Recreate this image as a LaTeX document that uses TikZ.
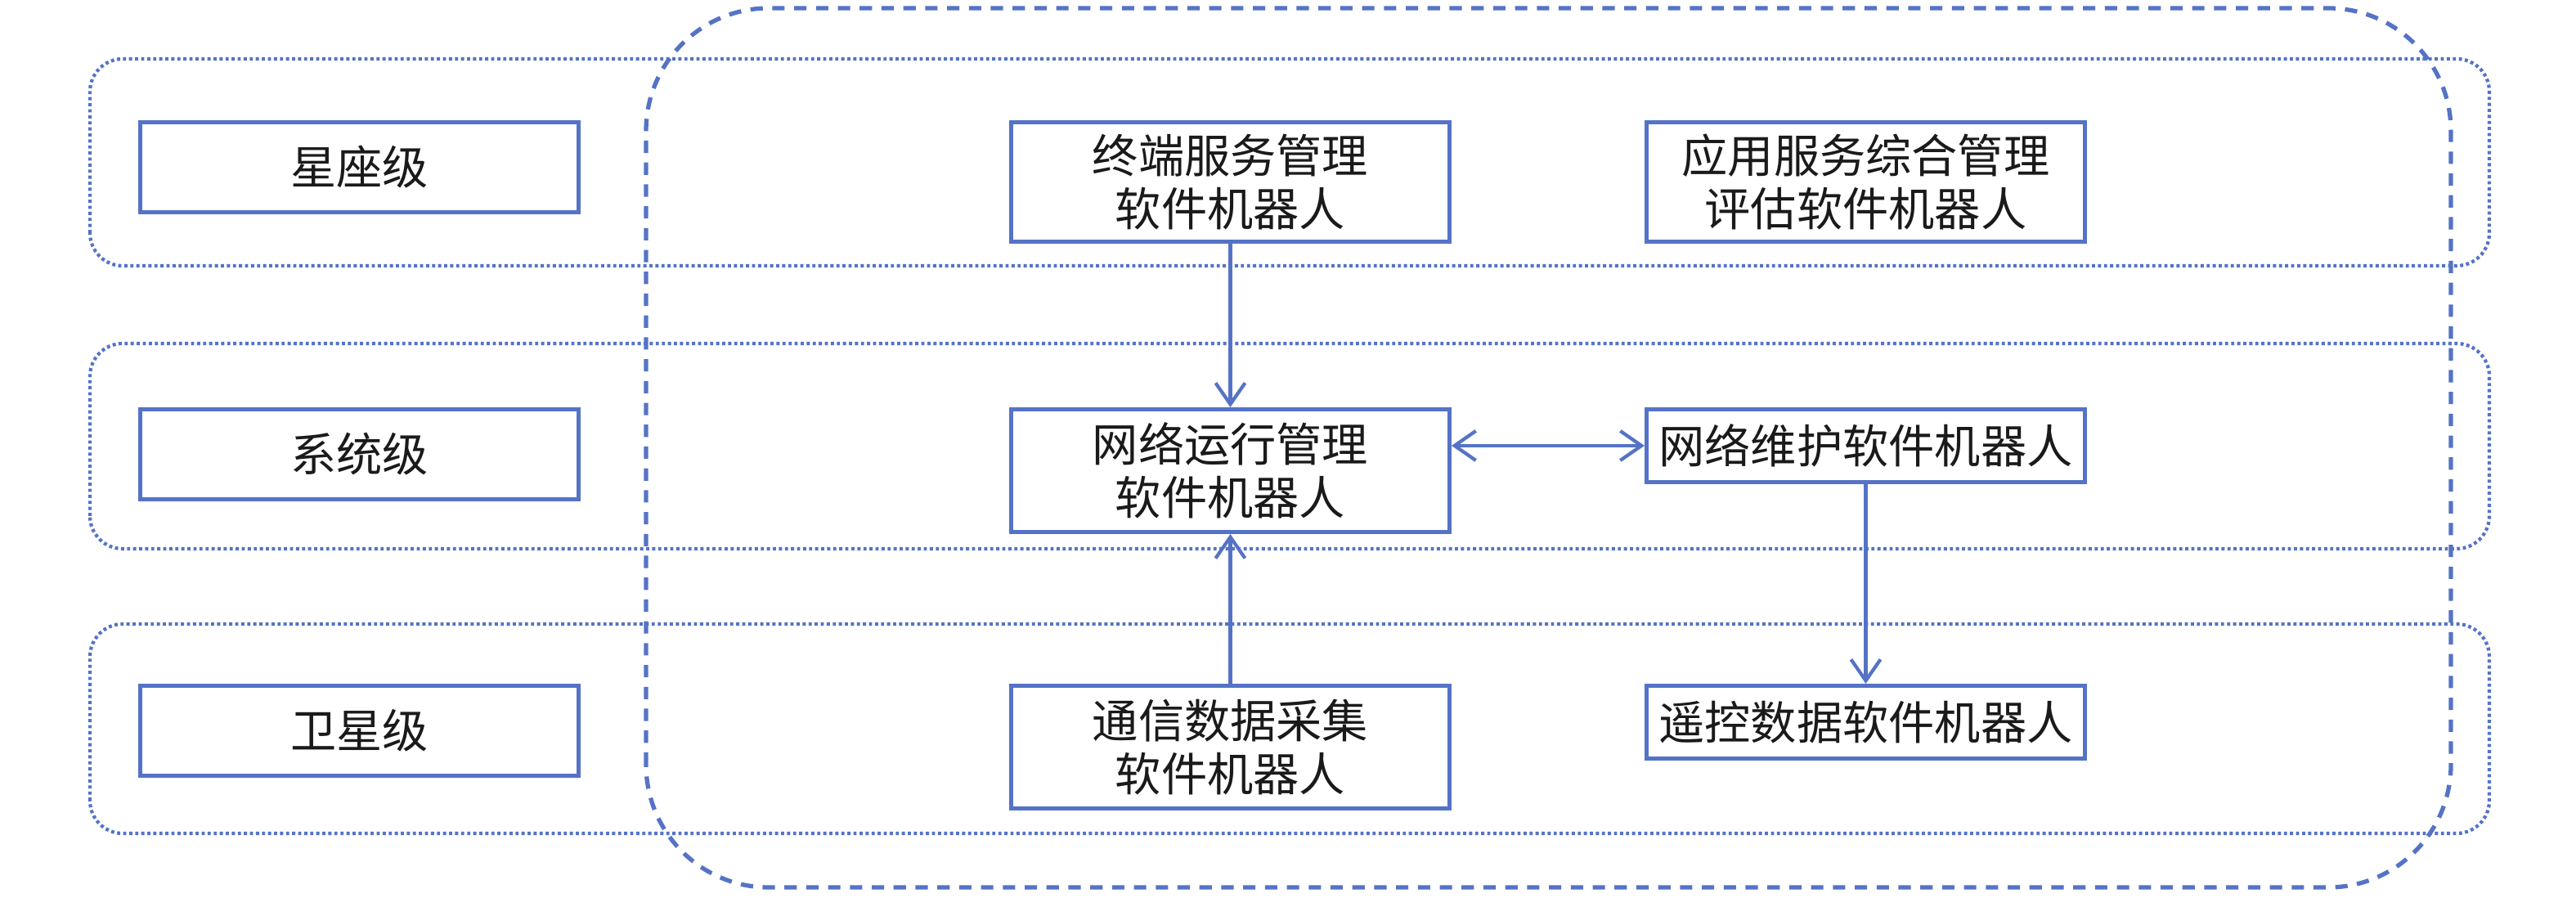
\documentclass[tikz,border=0pt]{standalone}
\usepackage{fontspec}
\newfontfamily\cjk{Noto Sans CJK SC}
\usetikzlibrary{arrows.meta,positioning}
\definecolor{lineblue}{HTML}{5573C6}
\definecolor{ink}{HTML}{1A1A1A}

\begin{document}
\begin{tikzpicture}[
  band/.style={draw=lineblue, line width=1.2pt, dash pattern=on 1.1pt off 1pt, rounded corners=0.4cm},
  lvl/.style={draw=lineblue, line width=1.4pt, anchor=north west, minimum width=5.36cm, minimum height=1.10cm,
              inner sep=0pt, text=ink, align=center, font=\cjk\fontsize{16}{18.5}\selectfont},
  bot/.style={lvl, minimum height=0.89cm},
  arr/.style={-{Straight Barb[length=2.6mm,width=3.6mm]}, line width=1.2pt, lineblue}]
  \useasboundingbox (0,0) rectangle (31.5,10.97);
  % level bands
  \draw[band] (1.10,7.72) rectangle (30.44,10.25);
  \draw[band] (1.10,4.26) rectangle (30.44,6.77);
  \draw[band] (1.10,0.78) rectangle (30.44,3.34);
  % software robot area
  \draw[lineblue, line width=1.5pt, dash pattern=on 4.3pt off 3.3pt, rounded corners=1.5cm]
    (7.90,0.12) rectangle (29.97,10.87);
  % levels
  \node[lvl] (l1) at (1.69,9.50) {星座级};
  \node[lvl] (l2) at (1.69,5.99) {系统级};
  \node[lvl] (l3) at (1.69,2.61) {卫星级};
  % robots
  \node[bot, minimum height=1.46cm] (t1) at (12.34,9.50) {终端服务管理\\软件机器人};
  \node[bot, minimum height=1.46cm] (t2) at (20.11,9.50) {应用服务综合管理\\评估软件机器人};
  \node[bot, minimum height=1.50cm] (s1) at (12.34,5.99) {网络运行管理\\软件机器人};
  \node[bot] (s2) at (20.11,5.99) {网络维护软件机器人};
  \node[bot, minimum height=1.50cm] (g1) at (12.34,2.61) {通信数据采集\\软件机器人};
  \node[bot] (g2) at (20.11,2.61) {遥控数据软件机器人};
  % flows
  \draw[arr] (t1) -- (s1);
  \draw[arr] (g1) -- (s1);
  \draw[arr, {Straight Barb[length=2.6mm,width=3.6mm]}-{Straight Barb[length=2.6mm,width=3.6mm]}]
    (s2.west -| s1.east) -- (s2.west);
  \draw[arr] (s2) -- (g2);
\end{tikzpicture}
\end{document}
